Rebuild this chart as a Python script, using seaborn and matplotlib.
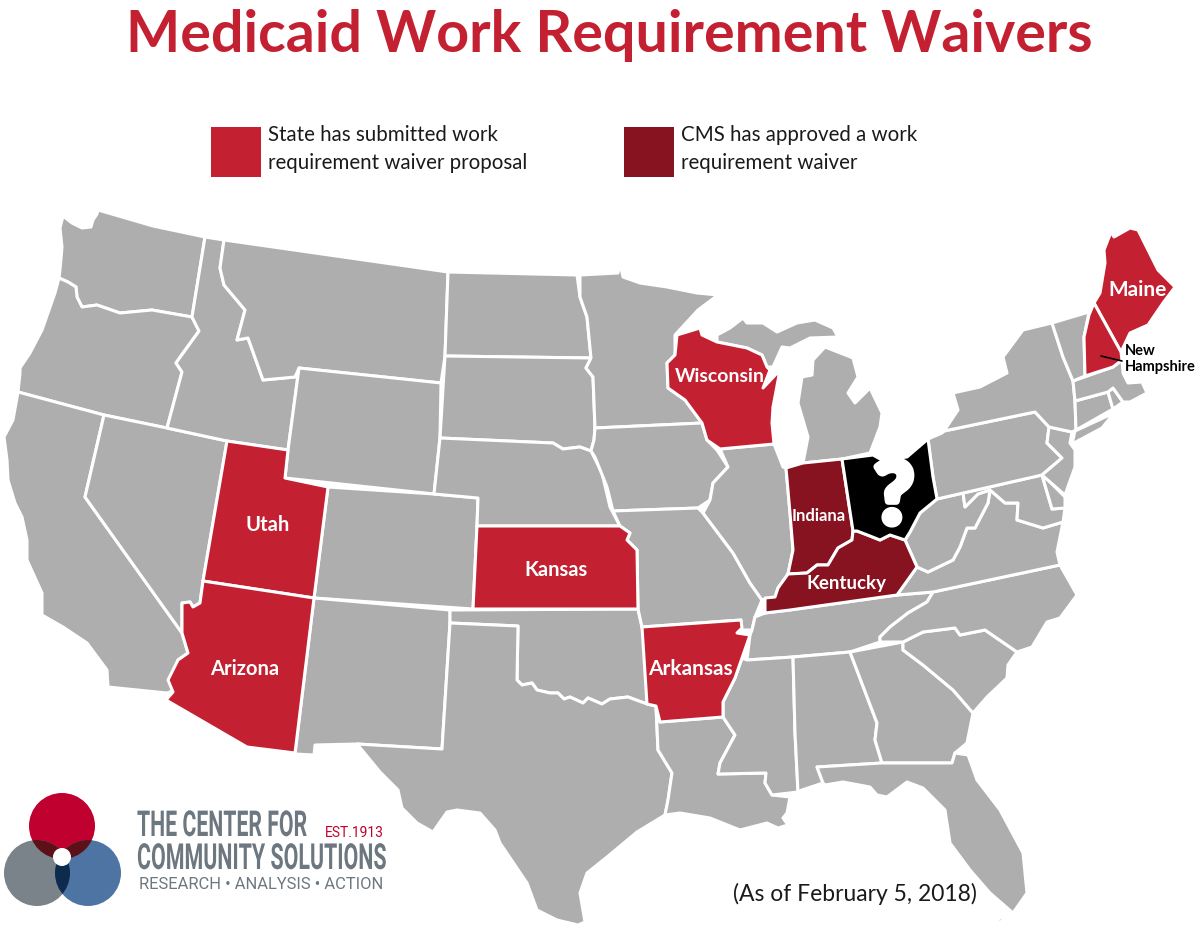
import matplotlib
matplotlib.use("Agg")
import matplotlib.pyplot as plt
import matplotlib.patheffects as pe
from matplotlib.patches import Circle, Rectangle
from matplotlib.transforms import Affine2D
import seaborn as sns

# ---- text ----
TITLE = "Medicaid Work Requirement Waivers"
LEGEND_SUBMITTED = "State has submitted work\nrequirement waiver proposal"
LEGEND_APPROVED = "CMS has approved a work\nrequirement waiver"
AS_OF = "(As of February 5, 2018)"

# ---- state outlines (pixel space of the map) ----
WA = [(63,216),(72,223),(82,228),(91,227),(93,220),(97,214),(98,210),(153,226),(205,237),(192,317),(152,310),(120,313),(97,305),(82,307),(77,297),(76,287),(68,282),(59,278),(60,270),(62,247),(60,228)]
OR = [(59,278),(68,282),(76,287),(77,297),(82,307),(97,305),(120,313),(152,310),(192,317),(199,331),(183,353),(176,363),(182,372),(167,428),(104,415),(18,392),(20,373),(20,368),(30,353),(42,330),(55,293)]
CA = [(18,392),(104,415),(85,497),(182,633),(188,653),(178,660),(172,680),(175,690),(167,693),(108,687),(107,670),(87,643),(63,627),(42,615),(42,593),(27,560),(27,540),(22,517),(15,503),(8,480),(7,460),(4,437),(13,420)]
NV = [(104,415),(167,428),(227,441),(203,581),(200,603),(193,607),(190,602),(182,603),(182,633),(85,497)]
ID = [(205,237),(224,240),(220,268),(224,285),(245,310),(237,340),(248,338),(263,380),(295,377),(299,368),(288,450),(227,441),(167,428),(182,372),(176,363),(199,331),(192,317)]
MT = [(224,240),(448,272),(445,356),(441,383),(299,368),(295,377),(263,380),(248,338),(237,340),(245,310),(224,285),(220,268)]
WY = [(299,368),(441,383),(440,438),(434,494),(285,478),(288,450)]
UT = [(227,441),(288,450),(285,478),(328,487),(314,598),(203,581)]
AZ = [(203,581),(314,598),(295,753),(247,747),(166,700),(173,692),(168,680),(178,660),(188,653),(182,633),(182,603),(190,602),(193,607),(200,603)]
CO = [(328,487),(434,494),(478,498),(477,526),(473,609),(314,598)]
NM = [(314,598),(450,610),(450,623),(442,749),(357,744),(315,745),(314,755),(295,754)]
ND = [(448,272),(577,275),(580,297),(587,317),(591,358),(445,356)]
SD = [(445,356),(591,358),(586,368),(593,377),(595,428),(594,440),(591,451),(580,447),(563,449),(553,443),(440,438)]
NE = [(440,438),(553,443),(563,449),(580,447),(591,451),(602,473),(610,507),(620,526),(477,526),(478,498),(434,494)]
KS = [(477,526),(620,526),(630,533),(627,540),(637,550),(638,609),(473,609)]
OK = [(450,610),(638,609),(642,627),(647,657),(647,704),(628,697),(610,699),(602,704),(588,698),(583,703),(570,697),(564,699),(558,693),(550,693),(537,690),(532,683),(522,685),(517,680),(518,626),(450,623)]
TX = [(450,623),(518,626),(517,680),(522,685),(532,683),(537,690),(550,693),(558,693),(564,699),(570,697),(583,703),(588,698),(602,704),(610,699),(628,697),(647,704),(656,706),(658,750),(672,773),(668,800),(665,815),(637,832),(607,857),(587,873),(580,893),(585,922),(578,925),(557,920),(537,910),(527,883),(500,843),(495,830),(480,813),(457,810),(447,812),(433,832),(417,823),(402,808),(398,790),(380,772),(357,744),(442,749)]
MN = [(580,275),(618,273),(620,263),(623,277),(640,283),(667,287),(697,293),(718,295),(698,310),(675,335),(675,355),(667,363),(668,388),(685,400),(702,423),(595,428),(593,377),(586,368),(591,358),(587,317),(580,297)]
IA = [(595,428),(702,423),(707,440),(717,450),(728,467),(713,483),(710,500),(698,508),(613,511),(607,487),(595,457),(591,451),(594,440)]
MO = [(613,511),(698,508),(703,513),(733,553),(750,583),(762,600),(755,617),(752,630),(740,630),(741,620),(642,627),(638,609),(637,550),(627,540),(630,533),(620,526)]
AR = [(642,627),(741,620),(742,628),(737,633),(750,635),(742,658),(735,678),(723,702),(723,717),(660,722),(656,706),(647,704)]
LA = [(660,722),(723,717),(735,735),(720,763),(718,774),(766,773),(765,783),(772,795),(790,797),(787,813),(783,818),(788,825),(778,828),(767,823),(740,830),(710,818),(680,813),(665,815),(668,800),(672,773),(658,750),(656,706)]
WI = [(677,335),(700,328),(702,335),(717,342),(747,348),(762,355),(767,367),(770,370),(763,388),(780,370),(773,407),(772,423),(774,444),(720,449),(707,440),(702,423),(685,400),(668,388),(667,363),(675,355)]
IL = [(720,449),(774,444),(783,467),(786,468),(790,513),(793,550),(788,574),(778,588),(775,597),(762,600),(750,583),(733,553),(703,513),(710,500),(713,483),(728,467)]
IN = [(786,468),(803,463),(842,459),(853,531),(852,540),(838,548),(828,565),(817,565),(807,573),(788,574),(793,550),(790,513)]
OH = [(842,459),(873,455),(882,460),(907,457),(928,439),(933,477),(937,499),(920,513),(910,532),(905,540),(890,535),(880,540),(870,536),(857,531),(853,531)]
KY = [(853,531),(857,531),(870,536),(880,540),(890,535),(905,540),(917,567),(897,595),(790,610),(765,613),(765,598),(775,597),(778,588),(788,574),(807,573),(817,565),(828,565),(838,548),(852,540)]
TN = [(755,617),(765,613),(790,610),(897,595),(933,592),(927,602),(908,613),(890,627),(880,637),(880,642),(850,652),(793,657),(747,660),(750,635),(752,630)]
MS = [(747,660),(793,657),(795,733),(798,792),(772,795),(765,783),(766,773),(718,774),(720,763),(735,735),(723,717),(723,702),(735,678),(742,658)]
AL = [(793,657),(850,652),(877,723),(875,740),(882,763),(817,767),(823,783),(802,790),(798,792),(795,733)]
GA = [(850,652),(903,642),(903,650),(923,665),(953,690),(973,713),(967,743),(955,753),(952,763),(882,763),(875,740),(877,723)]
FL = [(817,767),(882,763),(952,763),(955,753),(968,755),(977,780),(1000,810),(1023,853),(1027,893),(1013,913),(990,893),(970,870),(950,843),(945,810),(923,788),(907,782),(887,797),(877,795),(870,787),(843,782),(825,785),(823,783)]
KEYS = [(987,928),(1000,918),(1010,918),(1000,922)]
SC = [(903,642),(923,632),(955,628),(960,635),(985,630),(1017,652),(1008,665),(1007,678),(987,697),(973,713),(953,690),(923,665),(903,650)]
NC = [(1060,565),(1077,595),(1060,618),(1047,622),(1032,647),(1017,652),(985,630),(960,635),(955,628),(923,632),(903,642),(880,642),(880,637),(890,627),(908,613),(927,602),(933,592)]
VA = [(917,567),(928,572),(953,560),(960,547),(967,528),(975,528),(988,503),(990,490),(1005,503),(1018,503),(1017,520),(1043,528),(1063,522),(1057,552),(1060,565),(933,592),(897,595)]
WV = [(937,499),(963,493),(965,507),(978,494),(990,490),(988,503),(975,528),(967,528),(960,547),(953,560),(928,572),(917,567),(905,540),(910,532),(920,513)]
MD = [(963,493),(1042,475),(1052,509),(1065,508),(1063,522),(1043,528),(1017,520),(1018,503),(1005,503),(990,490),(978,494),(965,507)]
DE = [(1042,475),(1050,482),(1065,497),(1065,508),(1052,509)]
PA = [(928,439),(942,433),(944,431),(1035,412),(1049,427),(1047,443),(1062,458),(1042,475),(937,499),(933,477)]
NJ = [(1049,427),(1072,432),(1070,443),(1075,450),(1075,467),(1065,495),(1050,482),(1042,475),(1062,458),(1047,443)]
NY = [(944,431),(958,410),(953,393),(980,387),(1007,373),(1003,357),(1023,330),(1052,323),(1063,357),(1073,381),(1075,401),(1076,430),(1072,432),(1049,427),(1035,412)]
LI = [(1075,431),(1114,413),(1102,428),(1072,444)]
CT = [(1075,401),(1108,392),(1113,409),(1076,430)]
RI = [(1108,392),(1113,388),(1123,402),(1113,409)]
MA = [(1073,381),(1113,367),(1122,360),(1123,373),(1128,383),(1142,382),(1147,393),(1130,402),(1123,402),(1113,388),(1108,392),(1075,401)]
VT = [(1052,323),(1089,312),(1084,337),(1085,376),(1073,381),(1063,357)]
NH = [(1094,303),(1121,352),(1122,360),(1113,367),(1085,376),(1084,337),(1089,315)]
ME = [(1111,232),(1114,237),(1130,228),(1138,230),(1158,270),(1175,287),(1163,303),(1148,325),(1130,333),(1121,352),(1094,303),(1100,293),(1105,263),(1104,250)]
MI_UPPER = [(717,335),(730,328),(743,318),(747,323),(763,323),(777,332),(797,323),(815,320),(833,328),(838,337),(810,338),(790,348),(782,347),(773,367),(767,367),(762,355),(747,348),(717,342)]
MI_LOWER = [(825,347),(853,358),(858,377),(848,393),(855,403),(870,388),(882,413),(880,427),(870,453),(842,459),(803,463),(808,437),(798,403),(802,377),(812,375),(813,360)]
CA_ISLAND = [(47,633),(62,636),(50,636)]

SUBMITTED_STATES = [UT, AZ, KS, AR, WI, ME, NH]
APPROVED_STATES = [IN, KY]
UNDECIDED_STATES = [OH]
OTHER_STATES = [WA, OR, CA, NV, ID, MT, WY, CO, NM, ND, SD, NE, OK, TX, MN, IA, MO, LA, IL, TN, MS, AL,
                GA, FL, KEYS, SC, NC, VA, WV, MD, DE, PA, NJ, NY, LI, CT, RI, MA, VT, MI_UPPER, MI_LOWER, CA_ISLAND]

sns.set_theme(style="white")
plt.rcParams["font.family"] = ["Lato", "DejaVu Sans"]

RED, DARK, GREY, BLACK = sns.color_palette(["#c32032", "#86131f", "#aeaeae", "#000000"])
LOGO_RED, LOGO_GREY, LOGO_BLUE = "#c0002f", "#7a8389", "#4d74a3"
LOGO_TEXT = "#6d7780"

fig = plt.figure(figsize=(12, 9.35), dpi=100, facecolor="white")
ax = fig.add_axes([0, 0, 1, 1])
ax.set_xlim(0, 1200)
ax.set_ylim(935, 0)
ax.axis("off")


def draw_states(states, color):
    for outline in states:
        xs, ys = zip(*outline)
        ax.fill(xs, ys, facecolor=color, edgecolor="white", linewidth=2.2, joinstyle="round", zorder=2)


draw_states(OTHER_STATES, GREY)
draw_states(SUBMITTED_STATES, RED)
draw_states(APPROVED_STATES, DARK)
draw_states(UNDECIDED_STATES, BLACK)

ax.text(609, 35, TITLE, ha="center", va="center", fontsize=41.3, fontweight="bold", color=RED)

ax.add_patch(Rectangle((211, 127), 50, 50, facecolor=RED, edgecolor="none"))
ax.add_patch(Rectangle((624, 127), 50, 50, facecolor=DARK, edgecolor="none"))
ax.text(268, 149, LEGEND_SUBMITTED, va="center", ha="left", fontsize=14.8, color="#1a1a1a", linespacing=1.5)
ax.text(681, 149, LEGEND_APPROVED, va="center", ha="left", fontsize=14.8, color="#1a1a1a", linespacing=1.5)

for label, x, y, size in [("Maine", 1138, 290, 15), ("Wisconsin", 720, 376, 14), ("Utah", 268, 525, 14.5),
                          ("Kansas", 556, 570, 14.5), ("Arizona", 245, 669, 14.5), ("Arkansas", 690, 669, 15),
                          ("Indiana", 819, 516, 12), ("Kentucky", 847, 584, 13.5)]:
    ax.text(x, y, label, ha="center", va="center", fontsize=size, fontweight="bold", color="white", zorder=5)
ax.text(894, 499, "?", ha="center", va="center", fontsize=62, fontweight="black", color="white", zorder=5,
        path_effects=[pe.withStroke(linewidth=5, foreground="white")])

ax.plot([1101, 1122], [356, 361], color="black", lw=1.2, zorder=5)
ax.text(1125, 351, "New", ha="left", va="center", fontsize=10.5, fontweight="bold", color="black", zorder=5)
ax.text(1125, 367, "Hampshire", ha="left", va="center", fontsize=10.5, fontweight="bold", color="black", zorder=5)

ax.text(855, 894, AS_OF, ha="center", va="center", fontsize=16.5, color="#1a1a1a", zorder=5)


# ---- logo ----
def logo_circle(cx, cy, r, color, clip=None, z=6):
    c = Circle((cx, cy), r, facecolor=color, edgecolor="none", zorder=z)
    ax.add_patch(c)
    if clip is not None:
        c.set_clip_path(clip)
    return c


red_c = logo_circle(62, 826, 33, LOGO_RED)
grey_c = logo_circle(37, 873, 33, LOGO_GREY)
blue_c = logo_circle(88, 873, 33, LOGO_BLUE)
logo_circle(62, 826, 33, "#5c1018", clip=grey_c, z=7)
logo_circle(62, 826, 33, "#5c1018", clip=blue_c, z=7)
logo_circle(37, 873, 33, "#0d2b4c", clip=blue_c, z=7)
logo_circle(62, 857, 9, "white", z=8)


class TallText(pe.AbstractPathEffect):
    """Stretch glyphs vertically about their baseline (condensed logo lettering)."""

    def __init__(self, baseline_px, factor):
        super().__init__()
        self.base = 935 - baseline_px
        self.factor = factor

    def draw_path(self, renderer, gc, tpath, affine, rgbFace=None):
        stretch = Affine2D().translate(0, -self.base).scale(1, self.factor).translate(0, self.base)
        renderer.draw_path(gc, tpath, affine + stretch, rgbFace)


NARROW = ["Liberation Sans Narrow", "Roboto"]
for text, base, size, factor in [("THE CENTER FOR", 836, 15.3, 1.68), ("COMMUNITY SOLUTIONS", 869, 15.4, 1.68)]:
    ax.text(137, base, text, ha="left", va="baseline", family=NARROW, fontsize=size, fontweight="bold",
            color=LOGO_TEXT, zorder=6, path_effects=[TallText(base, factor)])
ax.text(261, 889, "RESEARCH • ANALYSIS • ACTION", ha="center", va="baseline", family=["Roboto"],
        fontsize=11.9, color=LOGO_TEXT, zorder=6)
ax.text(354, 837, "EST.1913", ha="center", va="baseline", family=["Roboto"], fontsize=10, color=LOGO_RED, zorder=6)

fig.savefig("out.png", dpi=100, facecolor="white")
